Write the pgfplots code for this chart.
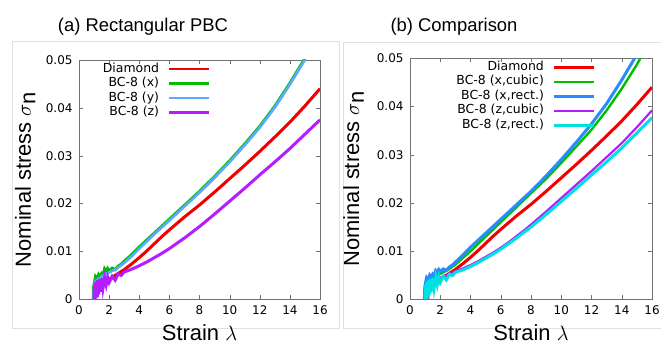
\documentclass[border=0pt]{standalone}
\usepackage{pgfplots}
\pgfplotsset{compat=1.18}
\usepackage{fontspec}
\setmainfont{Liberation Sans}
\newfontfamily\dejavu{DejaVu Sans}
\definecolor{cred}{RGB}{240,0,0}
\definecolor{cgreen}{RGB}{0,190,0}
\definecolor{cblueL}{RGB}{90,170,255}
\definecolor{cblue}{RGB}{40,140,255}
\definecolor{cpurple}{RGB}{180,30,255}
\definecolor{ccyan}{RGB}{0,225,225}
\pgfplotsset{
  gnu/.style={
    scale only axis,
    xmin=0, xmax=16, ymin=0, ymax=0.05,
    xtick={0,2,...,16}, xticklabels={0,2,4,6,8,10,12,14,16},
    ytick={0,0.01,0.02,0.03,0.04,0.05},
    yticklabels={0,0.01,0.02,0.03,0.04,0.05},
    scaled y ticks=false,
    tick align=inside, major tick length=4bp,
    axis line style={black!55}, tick style={black!55},
    tick label style={font=\dejavu\fontsize{12}{14}\selectfont},
    yticklabel style={xshift=-3bp},
    xticklabel style={yshift=-3bp},
    label style={font=\fontsize{22}{26}\selectfont},
    xlabel={Strain $\lambda$},
    ylabel={Nominal stress $\sigma_{\textrm{n}}$},
    legend plot pos=right,
    legend cell align=right,
    legend style={draw=none, fill=none, inner sep=0pt, row sep=0.5bp, column sep=8bp,
      nodes={inner sep=1bp, text height=9bp, text depth=3bp},
      font=\dejavu\fontsize{12.5}{14.5}\selectfont},
    legend image code/.code={\draw[##1] (0bp,0bp) -- (40bp,0bp);},
  }
}
\begin{document}
\begin{tikzpicture}[x=1bp,y=1bp]
\useasboundingbox (0,0) rectangle (661,344);
\coordinate (LA) at (79,44.7);
\coordinate (RA) at (410,44.7);
\draw[black!12, line width=0.8bp] (12,16) rectangle (339,303);
\draw[black!12, line width=0.8bp] (343,16) -- (343,302) -- (665,302);
\draw[black!12, line width=0.8bp] (343,16) -- (665,16);
\node[font=\fontsize{18.5}{22}\selectfont] at (143,317) {(a) Rectangular PBC};
\node[font=\fontsize{18.5}{22}\selectfont] at (454,317) {(b) Comparison};

\begin{axis}[gnu, at={(LA)}, anchor=south west, width=241bp, height=239.3bp,
  xlabel style={at={(axis description cs:0.5,-0.171)}, anchor=base},
  ylabel style={at={(axis description cs:-0.2,0.5)}, anchor=base},
  legend style={at={(rel axis cs:0.548,0.992)}, anchor=north east}]
\addplot[cred, line width=3bp, legend image post style={line width=2.2bp}] coordinates {
(1.0,0)(1.05,0.0015)(1.2,0.0025)(1.5,0.0032)(2,0.0042)(2.5,0.0052)(3,0.0062)(3.5,0.0074)
(4,0.0087)(4.5,0.0101)(5,0.0116)(5.5,0.0131)(6,0.0145)(7,0.0172)(8,0.0197)(9,0.0224)(10,0.0252)(11,0.028)
(12,0.0309)(13,0.0339)(14,0.037)(15,0.0404)(16,0.044)};
\addlegendentry{Diamond}
\addplot[cgreen, line width=3.2bp, legend image post style={line width=2.8bp}] coordinates {
(0.95,0)(0.97,0.002)(1.0,0.003)(1.05,0.0038)(1.1,0.0047)(1.2,0.0043)(1.3,0.0051)(1.4,0.0046)
(1.5,0.0053)(1.6,0.0049)(1.7,0.0063)(1.8,0.0058)(1.9,0.0064)(2.0,0.0059)(2.2,0.0065)
(2.4,0.0062)(2.6,0.0069)(2.8,0.0073)(3.0,0.0079)(3.5,0.0093)(4,0.0109)(5,0.0138)(6,0.0167)
(7,0.0196)(8,0.0225)(9,0.0256)(10,0.0289)(11,0.0324)(12,0.0361)(13,0.0403)(14,0.0451)(15,0.0503)};
\addlegendentry{BC-8 (x)}
\addplot[cblueL, line width=2.6bp, legend image post style={line width=2bp}] coordinates {
(0.97,0)(1.0,0.002)(1.05,0.003)(1.1,0.0038)(1.3,0.0043)(1.5,0.0047)(1.7,0.0052)(2.0,0.0056)
(2.5,0.0064)(3,0.0076)(3.5,0.009)(4,0.0106)(5,0.0136)(6,0.0165)(7,0.0194)(8,0.0223)
(9,0.0254)(10,0.0287)(11,0.0322)(12,0.0359)(13,0.0401)(14,0.0449)(15,0.0501)};
\addlegendentry{BC-8 (y)}
\addplot[cpurple, line width=3bp, legend image post style={line width=2.6bp}] coordinates {
(1.0,0)(1.02,0.003)(1.06,0)(1.1,0.0035)(1.14,0.0002)(1.18,0.0038)(1.22,0.0005)(1.26,0.004)
(1.3,0.001)(1.35,0.0042)(1.4,0.0015)(1.45,0.0043)(1.5,0.002)(1.55,0.0044)(1.6,0.0025)
(1.7,0.0045)(1.8,0.003)(1.9,0.0046)(2.0,0.0035)(2.2,0.0048)(2.4,0.004)(2.6,0.0053)
(2.8,0.005)(3.0,0.0057)(3.5,0.0063)(4,0.007)(4.5,0.0078)(5,0.0087)(5.5,0.0096)(6,0.0106)
(6.5,0.0117)(7,0.0128)(7.5,0.014)(8,0.0152)(9,0.0178)(10,0.0205)(11,0.0232)(12,0.026)
(13,0.0287)(14,0.0315)(15,0.0345)(16,0.0375)};
\addlegendentry{BC-8 (z)}
\end{axis}

\begin{axis}[gnu, at={(RA)}, anchor=south west, width=242bp, height=241bp,
  xlabel style={at={(axis description cs:0.5,-0.17)}, anchor=base},
  ylabel style={at={(axis description cs:-0.21,0.5)}, anchor=base},
  legend style={at={(rel axis cs:0.768,0.992)}, anchor=north east}]
\addplot[cred, line width=3bp, legend image post style={line width=2.6bp}] coordinates {
(1.0,0)(1.05,0.0015)(1.2,0.0025)(1.5,0.0032)(2,0.0042)(2.5,0.0052)(3,0.0062)(3.5,0.0074)
(4,0.0087)(4.5,0.0101)(5,0.0116)(5.5,0.0131)(6,0.0145)(7,0.0172)(8,0.0197)(9,0.0224)(10,0.0252)(11,0.028)
(12,0.0309)(13,0.0339)(14,0.037)(15,0.0404)(16,0.044)};
\addlegendentry{Diamond}
\addplot[cgreen, line width=2.4bp, legend image post style={line width=1.4bp}] coordinates {
(0.95,0)(1.0,0.0025)(1.1,0.0035)(1.3,0.0042)(1.6,0.0047)(2,0.0053)(2.5,0.0061)(3,0.0072)
(4,0.0100)(5,0.013)(6,0.016)(7,0.019)(8,0.022)(9,0.025)(10,0.0283)(11,0.0317)(12,0.0352)
(13,0.0392)(14,0.0437)(15,0.0487)(15.3,0.0504)};
\addlegendentry{BC-8 (x,cubic)}
\addplot[cblue, line width=3bp, legend image post style={line width=2.8bp}] coordinates {
(0.95,0)(0.97,0.002)(1.0,0.003)(1.05,0.0038)(1.1,0.0045)(1.2,0.0041)(1.3,0.005)(1.4,0.0045)
(1.5,0.0052)(1.6,0.0048)(1.7,0.006)(1.8,0.0057)(1.9,0.0062)(2.0,0.0058)(2.2,0.0063)
(2.4,0.006)(2.6,0.0067)(2.8,0.0071)(3.0,0.0077)(3.5,0.0092)(4,0.0108)(5,0.0137)(6,0.0166)
(7,0.0195)(8,0.0224)(9,0.0256)(10,0.029)(11,0.0326)(12,0.0364)(13,0.0406)(14,0.0455)(15,0.0508)};
\addlegendentry{BC-8 (x,rect.)}
\addplot[cpurple, line width=2.2bp, legend image post style={line width=1.4bp}] coordinates {
(1.2,0)(1.3,0.0025)(1.5,0.0035)(2,0.0045)(2.5,0.0052)(3,0.0058)(3.5,0.0064)(4,0.0071)(4.5,0.0079)(5,0.0088)
(5.5,0.0097)(6,0.0107)(6.5,0.0118)(7,0.013)(7.5,0.0142)(8,0.0155)(9,0.0182)(10,0.021)(11,0.0238)(12,0.0266)(13,0.0295)
(14,0.0324)(15,0.0357)(16,0.0392)};
\addlegendentry{BC-8 (z,cubic)}
\addplot[ccyan, line width=3bp, legend image post style={line width=2.2bp}] coordinates {
(1.0,0)(1.02,0.003)(1.06,0)(1.1,0.0035)(1.14,0.0002)(1.18,0.0038)(1.22,0.0005)(1.26,0.004)
(1.3,0.001)(1.35,0.0042)(1.4,0.0015)(1.45,0.0043)(1.5,0.002)(1.55,0.0044)(1.6,0.0025)
(1.7,0.0045)(1.8,0.003)(1.9,0.0046)(2.0,0.0035)(2.2,0.0048)(2.4,0.004)(2.6,0.0052)
(2.8,0.0049)(3.0,0.0056)(3.5,0.0061)(4,0.0068)(4.5,0.0076)(5,0.0085)(5.5,0.0094)(6,0.0104)
(6.5,0.0115)(7,0.0126)(7.5,0.0138)(8,0.015)(9,0.0176)(10,0.0203)(11,0.023)(12,0.0258)
(13,0.0285)(14,0.0314)(15,0.0345)(16,0.0377)};
\addlegendentry{BC-8 (z,rect.)}
\end{axis}
\end{tikzpicture}
\end{document}
